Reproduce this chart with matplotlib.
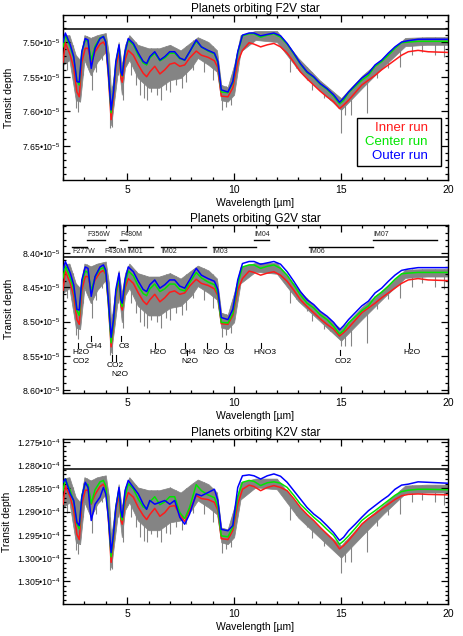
import numpy as np
import matplotlib
matplotlib.use("Agg")
import matplotlib.pyplot as plt
from matplotlib.ticker import FixedLocator, FixedFormatter, MultipleLocator
from matplotlib.patches import Rectangle

plt.rcParams['font.family'] = ['Liberation Sans', 'DejaVu Sans']
plt.rcParams['mathtext.fontset'] = 'custom'
plt.rcParams['mathtext.rm'] = 'Liberation Sans'
plt.rcParams['mathtext.default'] = 'regular'

# --- smoothed runs (transit depth, 1e-5 for F2V/G2V, 1e-4 for K2V) ---
wavelength = [2.00, 2.11, 2.34, 2.50, 2.65, 2.76, 2.88, 3.04, 3.17, 3.32,
              3.50, 3.73, 3.89, 4.00, 4.12, 4.25, 4.36, 4.47, 4.62, 4.71,
              4.77, 4.90, 5.05, 5.29, 5.52, 5.75, 5.91, 6.06, 6.29, 6.53,
              6.76, 6.99, 7.22, 7.46, 7.69, 7.92, 8.23, 8.47, 8.78, 9.08,
              9.24, 9.40, 9.71, 9.94, 10.17, 10.39, 10.70, 10.93, 11.24, 11.55,
              11.86, 12.17, 12.48, 12.79, 13.10, 13.41, 13.72, 14.03, 14.34, 14.65,
              14.93, 15.12, 15.35, 15.66, 15.97, 16.28, 16.59, 16.90, 17.21, 17.52,
              17.83, 18.14, 18.60, 19.07, 20.00]

f2v_outer = [7.500, 7.487, 7.504, 7.521, 7.557, 7.558, 7.514, 7.495, 7.497, 7.538,
             7.509, 7.495, 7.492, 7.500, 7.543, 7.598, 7.572, 7.528, 7.504, 7.543,
             7.548, 7.514, 7.495, 7.502, 7.516, 7.528, 7.531, 7.521, 7.514, 7.526,
             7.521, 7.514, 7.514, 7.523, 7.526, 7.514, 7.497, 7.507, 7.512, 7.516,
             7.528, 7.569, 7.572, 7.557, 7.514, 7.490, 7.487, 7.487, 7.491, 7.489,
             7.487, 7.491, 7.502, 7.516, 7.531, 7.543, 7.550, 7.560, 7.567, 7.576,
             7.587, 7.581, 7.572, 7.562, 7.552, 7.545, 7.533, 7.526, 7.516, 7.507,
             7.500, 7.498, 7.496, 7.496, 7.496]
f2v_center = [7.507, 7.490, 7.507, 7.523, 7.555, 7.562, 7.514, 7.497, 7.499, 7.526,
              7.506, 7.494, 7.492, 7.500, 7.543, 7.602, 7.573, 7.530, 7.506, 7.545,
              7.549, 7.516, 7.497, 7.504, 7.519, 7.530, 7.533, 7.523, 7.516, 7.527,
              7.523, 7.516, 7.516, 7.524, 7.526, 7.514, 7.499, 7.507, 7.513, 7.517,
              7.530, 7.572, 7.573, 7.559, 7.516, 7.491, 7.488, 7.488, 7.493, 7.490,
              7.488, 7.493, 7.503, 7.517, 7.532, 7.544, 7.551, 7.561, 7.568, 7.578,
              7.589, 7.584, 7.573, 7.564, 7.555, 7.548, 7.535, 7.528, 7.519, 7.509,
              7.501, 7.500, 7.499, 7.499, 7.499]
f2v_inner = [7.529, 7.501, 7.519, 7.537, 7.572, 7.579, 7.529, 7.509, 7.509, 7.529,
             7.514, 7.503, 7.500, 7.506, 7.549, 7.612, 7.581, 7.537, 7.514, 7.552,
             7.558, 7.526, 7.512, 7.519, 7.533, 7.545, 7.550, 7.543, 7.535, 7.546,
             7.540, 7.532, 7.530, 7.535, 7.533, 7.523, 7.513, 7.519, 7.522, 7.527,
             7.537, 7.578, 7.579, 7.566, 7.529, 7.512, 7.501, 7.503, 7.507, 7.504,
             7.502, 7.507, 7.516, 7.529, 7.543, 7.553, 7.562, 7.571, 7.579, 7.586,
             7.596, 7.591, 7.584, 7.573, 7.562, 7.555, 7.548, 7.540, 7.533, 7.526,
             7.519, 7.514, 7.512, 7.514, 7.515]

g2v_outer = [8.425, 8.412, 8.429, 8.446, 8.482, 8.483, 8.439, 8.420, 8.422, 8.463,
             8.434, 8.420, 8.417, 8.425, 8.468, 8.523, 8.497, 8.453, 8.429, 8.468,
             8.473, 8.439, 8.420, 8.427, 8.441, 8.453, 8.456, 8.446, 8.439, 8.451,
             8.446, 8.439, 8.439, 8.448, 8.451, 8.439, 8.422, 8.432, 8.437, 8.441,
             8.453, 8.494, 8.497, 8.482, 8.439, 8.415, 8.412, 8.412, 8.416, 8.414,
             8.412, 8.416, 8.427, 8.441, 8.456, 8.468, 8.475, 8.485, 8.492, 8.501,
             8.512, 8.506, 8.497, 8.487, 8.477, 8.470, 8.458, 8.451, 8.441, 8.432,
             8.425, 8.423, 8.421, 8.421, 8.421]
g2v_center = [8.436, 8.419, 8.436, 8.452, 8.484, 8.491, 8.443, 8.426, 8.428, 8.455,
              8.435, 8.423, 8.421, 8.429, 8.472, 8.531, 8.502, 8.459, 8.435, 8.474,
              8.478, 8.445, 8.426, 8.433, 8.448, 8.459, 8.462, 8.452, 8.445, 8.456,
              8.452, 8.445, 8.445, 8.453, 8.455, 8.443, 8.428, 8.436, 8.442, 8.446,
              8.459, 8.501, 8.502, 8.488, 8.445, 8.420, 8.417, 8.417, 8.422, 8.419,
              8.417, 8.422, 8.432, 8.446, 8.461, 8.473, 8.480, 8.490, 8.497, 8.507,
              8.518, 8.513, 8.502, 8.493, 8.484, 8.477, 8.464, 8.457, 8.448, 8.438,
              8.430, 8.429, 8.428, 8.428, 8.428]
g2v_inner = [8.454, 8.426, 8.444, 8.462, 8.497, 8.504, 8.454, 8.434, 8.434, 8.454,
             8.439, 8.428, 8.425, 8.431, 8.474, 8.537, 8.506, 8.462, 8.439, 8.477,
             8.483, 8.451, 8.437, 8.444, 8.458, 8.470, 8.475, 8.468, 8.460, 8.471,
             8.465, 8.457, 8.455, 8.460, 8.458, 8.448, 8.438, 8.444, 8.447, 8.452,
             8.462, 8.503, 8.504, 8.491, 8.454, 8.437, 8.426, 8.428, 8.432, 8.429,
             8.427, 8.432, 8.441, 8.454, 8.468, 8.478, 8.487, 8.496, 8.504, 8.511,
             8.521, 8.516, 8.509, 8.498, 8.487, 8.480, 8.473, 8.465, 8.458, 8.451,
             8.444, 8.439, 8.437, 8.439, 8.440]

k2v_outer = [1.2837, 1.2830, 1.2862, 1.2876, 1.2923, 1.2930, 1.2869, 1.2837, 1.2848, 1.2919,
             1.2884, 1.2869, 1.2848, 1.2862, 1.2912, 1.2988, 1.2948, 1.2891, 1.2848, 1.2898,
             1.2912, 1.2855, 1.2833, 1.2848, 1.2862, 1.2884, 1.2895, 1.2876, 1.2884, 1.2880,
             1.2876, 1.2884, 1.2876, 1.2912, 1.2927, 1.2905, 1.2862, 1.2866, 1.2859, 1.2852,
             1.2876, 1.2938, 1.2941, 1.2930, 1.2848, 1.2823, 1.2821, 1.2823, 1.2830, 1.2823,
             1.2819, 1.2824, 1.2837, 1.2855, 1.2873, 1.2891, 1.2905, 1.2916, 1.2930, 1.2945,
             1.2962, 1.2955, 1.2941, 1.2927, 1.2912, 1.2898, 1.2887, 1.2876, 1.2866, 1.2852,
             1.2843, 1.2841, 1.2836, 1.2837, 1.2839]
k2v_center = [1.2855, 1.2830, 1.2855, 1.2879, 1.2926, 1.2937, 1.2866, 1.2840, 1.2842, 1.2883,
              1.2853, 1.2836, 1.2833, 1.2845, 1.2909, 1.2997, 1.2954, 1.2890, 1.2853, 1.2911,
              1.2918, 1.2868, 1.2840, 1.2851, 1.2873, 1.2890, 1.2894, 1.2879, 1.2868, 1.2885,
              1.2879, 1.2868, 1.2868, 1.2902, 1.2915, 1.2891, 1.2842, 1.2855, 1.2864, 1.2870,
              1.2890, 1.2952, 1.2954, 1.2933, 1.2868, 1.2837, 1.2833, 1.2835, 1.2844, 1.2838,
              1.2836, 1.2839, 1.2848, 1.2865, 1.2884, 1.2898, 1.2912, 1.2924, 1.2938, 1.2951,
              1.2970, 1.2963, 1.2952, 1.2936, 1.2919, 1.2908, 1.2898, 1.2887, 1.2876, 1.2865,
              1.2857, 1.2854, 1.2852, 1.2852, 1.2853]
k2v_inner = [1.2884, 1.2844, 1.2869, 1.2897, 1.2949, 1.2960, 1.2884, 1.2854, 1.2854, 1.2884,
             1.2863, 1.2846, 1.2841, 1.2850, 1.2915, 1.3009, 1.2962, 1.2897, 1.2863, 1.2919,
             1.2927, 1.2880, 1.2859, 1.2869, 1.2891, 1.2908, 1.2917, 1.2906, 1.2893, 1.2910,
             1.2902, 1.2889, 1.2887, 1.2906, 1.2921, 1.2897, 1.2865, 1.2872, 1.2874, 1.2880,
             1.2897, 1.2958, 1.2960, 1.2940, 1.2884, 1.2852, 1.2843, 1.2846, 1.2855, 1.2848,
             1.2844, 1.2848, 1.2855, 1.2872, 1.2891, 1.2906, 1.2919, 1.2934, 1.2948, 1.2962,
             1.2980, 1.2973, 1.2962, 1.2945, 1.2927, 1.2915, 1.2905, 1.2894, 1.2884, 1.2874,
             1.2866, 1.2863, 1.2862, 1.2863, 1.2864]

# --- high-resolution spectrum: envelope of the grey band ---
grey_wl = [2.0, 2.3, 2.6, 2.8, 3.0, 3.3, 3.6, 4.0, 4.15, 4.25,
           4.4, 4.6, 4.75, 4.9, 5.1, 5.5, 6.0, 6.5, 7.0, 7.5,
           8.0, 8.3, 8.8, 9.2, 9.4, 9.7, 10.0, 10.3, 11.0, 12.0,
           13.0, 14.0, 15.0, 16.0, 17.0, 18.0, 19.0, 20.0]
f2v_grey_hi = [7.491, 7.490, 7.519, 7.526, 7.490, 7.494, 7.490, 7.487, 7.519, 7.576,
               7.540, 7.500, 7.533, 7.504, 7.490, 7.504, 7.509, 7.509, 7.504, 7.512,
               7.500, 7.493, 7.500, 7.512, 7.562, 7.565, 7.533, 7.490, 7.484, 7.484,
               7.523, 7.555, 7.581, 7.548, 7.522, 7.494, 7.493, 7.493]
f2v_grey_lo = [7.533, 7.526, 7.584, 7.586, 7.526, 7.548, 7.529, 7.514, 7.562, 7.620,
               7.584, 7.533, 7.576, 7.537, 7.526, 7.552, 7.566, 7.566, 7.555, 7.552,
               7.537, 7.523, 7.533, 7.543, 7.584, 7.586, 7.576, 7.514, 7.497, 7.500,
               7.540, 7.569, 7.598, 7.566, 7.535, 7.506, 7.504, 7.504]
g2v_grey_hi = [8.416, 8.415, 8.444, 8.451, 8.415, 8.419, 8.415, 8.412, 8.444, 8.501,
               8.465, 8.425, 8.458, 8.429, 8.415, 8.429, 8.434, 8.434, 8.429, 8.437,
               8.425, 8.418, 8.425, 8.437, 8.487, 8.490, 8.458, 8.420, 8.414, 8.414,
               8.453, 8.485, 8.511, 8.478, 8.452, 8.424, 8.423, 8.423]
g2v_grey_lo = [8.458, 8.451, 8.509, 8.511, 8.451, 8.473, 8.454, 8.439, 8.487, 8.545,
               8.509, 8.458, 8.501, 8.462, 8.451, 8.477, 8.491, 8.491, 8.480, 8.477,
               8.462, 8.448, 8.458, 8.468, 8.509, 8.511, 8.501, 8.444, 8.427, 8.430,
               8.470, 8.499, 8.528, 8.496, 8.465, 8.436, 8.434, 8.434]
k2v_grey_hi = [1.2829, 1.2826, 1.2869, 1.2880, 1.2826, 1.2833, 1.2826, 1.2822, 1.2869, 1.2955,
               1.2902, 1.2841, 1.2891, 1.2848, 1.2826, 1.2848, 1.2854, 1.2854, 1.2848, 1.2859,
               1.2841, 1.2831, 1.2841, 1.2859, 1.2934, 1.2938, 1.2891, 1.2837, 1.2829, 1.2829,
               1.2887, 1.2934, 1.2973, 1.2923, 1.2885, 1.2844, 1.2842, 1.2842]
k2v_grey_lo = [1.2891, 1.2880, 1.2966, 1.2970, 1.2880, 1.2912, 1.2884, 1.2863, 1.2934, 1.3020,
               1.2966, 1.2891, 1.2955, 1.2897, 1.2880, 1.2919, 1.2940, 1.2940, 1.2923, 1.2919,
               1.2897, 1.2876, 1.2891, 1.2906, 1.2966, 1.2970, 1.2955, 1.2874, 1.2848, 1.2852,
               1.2913, 1.2956, 1.2999, 1.2951, 1.2904, 1.2861, 1.2859, 1.2859]

# narrow absorption spikes of the grey spectrum
spike_wl = [2.2, 2.45, 2.62, 2.72, 2.95, 3.1, 3.35, 3.55, 3.8, 4.2,
            4.3, 4.55, 4.8, 5.2, 5.4, 5.6, 5.8, 5.95, 6.1, 6.4,
            6.6, 6.8, 7.0, 7.3, 7.55, 7.75, 8.1, 8.6, 9.0, 9.45,
            9.6, 9.85, 12.6, 12.9, 13.4, 13.65, 14.2, 14.5, 15.0, 15.2,
            15.45, 16.2, 16.7, 17.2, 17.75, 18.3, 18.8, 19.4, 19.8]
f2v_spike = [7.540, 7.555, 7.595, 7.601, 7.548, 7.533, 7.569, 7.543, 7.526, 7.624,
             7.622, 7.548, 7.584, 7.548, 7.562, 7.576, 7.581, 7.584, 7.572, 7.576,
             7.584, 7.569, 7.572, 7.562, 7.566, 7.558, 7.540, 7.543, 7.555, 7.598,
             7.594, 7.591, 7.543, 7.537, 7.555, 7.569, 7.581, 7.584, 7.631, 7.605,
             7.605, 7.602, 7.552, 7.537, 7.536, 7.519, 7.514, 7.519, 7.522]
g2v_spike = [8.465, 8.480, 8.520, 8.526, 8.473, 8.458, 8.494, 8.468, 8.451, 8.549,
             8.547, 8.473, 8.509, 8.473, 8.487, 8.501, 8.506, 8.509, 8.497, 8.501,
             8.509, 8.494, 8.497, 8.487, 8.491, 8.483, 8.465, 8.468, 8.480, 8.523,
             8.519, 8.516, 8.473, 8.467, 8.485, 8.499, 8.511, 8.514, 8.535, 8.535,
             8.535, 8.532, 8.482, 8.467, 8.466, 8.449, 8.444, 8.449, 8.452]
k2v_spike = [1.2902, 1.2923, 1.2983, 1.2992, 1.2912, 1.2891, 1.2945, 1.2906, 1.2880, 1.3026,
             1.3024, 1.2912, 1.2966, 1.2912, 1.2934, 1.2955, 1.2962, 1.2966, 1.2949, 1.2955,
             1.2966, 1.2945, 1.2949, 1.2934, 1.2940, 1.2927, 1.2902, 1.2906, 1.2923, 1.2988,
             1.2981, 1.2977, 1.2917, 1.2908, 1.2934, 1.2956, 1.2973, 1.2977, 1.3031, 1.3009,
             1.3009, 1.2986, 1.2930, 1.2908, 1.2906, 1.2880, 1.2874, 1.2880, 1.2885]

# reference (no atmosphere) level in each panel
ref_depth = [7.4813, 8.4058, 1.2809]

# --- JWST filters and molecular bands (G2V panel) ---
filt_upper = ['F356W', 'F480M', 'IM04', 'IM07']
filt_upper_start = [3.14, 4.66, 10.95, 16.5]
filt_upper_end = [3.98, 4.97, 11.65, 19.5]
filt_lower = ['F277W', 'F430M', 'IM01', 'IM02', 'IM03', 'IM06']
filt_lower_start = [2.42, 4.17, 5.03, 6.6, 9.0, 13.5]
filt_lower_end = [3.12, 4.41, 6.2, 8.7, 11.0, 16.5]

mol_name = ['H2O\nCO2', 'CH4', 'CO2', 'N2O', 'O3', 'H2O', 'CH4', 'N2O',
            'N2O', 'O3', 'HNO3', 'CO2', 'H2O']
mol_wl = [2.7, 3.3, 4.27, 4.5, 4.7, 6.3, 7.7, 7.8, 8.75, 9.6, 11.27, 14.93, 18.17]
mol_row = [1, 0, 3, 4, 0, 1, 1, 2, 1, 1, 1, 2, 1]

titles = ['Planets orbiting F2V star', 'Planets orbiting G2V star',
          'Planets orbiting K2V star']

fig = plt.figure(figsize=(4.63, 6.36), dpi=100)
W, H = 463.0, 636.0
left, right = 63, 448
boxes = [(15, 180), (225, 392.7), (439, 604.3)]

panels = [
    dict(inner=f2v_inner, center=f2v_center, outer=f2v_outer,
         hi=f2v_grey_hi, lo=f2v_grey_lo, spike=f2v_spike,
         ylim=(7.699, 7.461), yt=[7.50, 7.55, 7.60, 7.65], fmt='{:.2f}', exp=-5,
         minor=0.01, ylx=-0.128),
    dict(inner=g2v_inner, center=g2v_center, outer=g2v_outer,
         hi=g2v_grey_hi, lo=g2v_grey_lo, spike=g2v_spike,
         ylim=(8.604, 8.3586), yt=[8.40, 8.45, 8.50, 8.55, 8.60], fmt='{:.2f}', exp=-5,
         minor=0.01, ylx=-0.128),
    dict(inner=k2v_inner, center=k2v_center, outer=k2v_outer,
         hi=k2v_grey_hi, lo=k2v_grey_lo, spike=k2v_spike,
         ylim=(1.3099, 1.2744), yt=[1.275, 1.280, 1.285, 1.290, 1.295, 1.300, 1.305],
         fmt='{:.3f}', exp=-4, minor=0.001, ylx=-0.132),
]

grey = '#848484'
axes = []
for i, p in enumerate(panels):
    top, bot = boxes[i]
    ax = fig.add_axes([left / W, 1 - bot / H, (right - left) / W, (bot - top) / H])
    axes.append(ax)

    ax.fill_between(grey_wl, p['hi'], p['lo'], color=grey, lw=0.5, zorder=1)
    spike_top = np.interp(spike_wl, grey_wl, p['hi'])
    ax.vlines(spike_wl, spike_top, p['spike'], color=grey, lw=0.8, zorder=1)

    ax.axhline(ref_depth[i], color='black', lw=1.1, zorder=2)
    ax.plot(wavelength, p['inner'], color='#ff1a1a', lw=1.1, zorder=3)
    ax.plot(wavelength, p['center'], color='#00e600', lw=1.1, zorder=4)
    ax.plot(wavelength, p['outer'], color='#0000ff', lw=1.1, zorder=5)

    ax.set_xlim(2, 20)
    ax.set_ylim(*p['ylim'])
    ax.xaxis.set_major_locator(FixedLocator([5, 10, 15, 20]))
    ax.xaxis.set_minor_locator(MultipleLocator(1))
    ax.yaxis.set_major_locator(FixedLocator(p['yt']))
    ax.yaxis.set_major_formatter(FixedFormatter(
        [p['fmt'].format(v) + '\u2022' + '10$^{%d}$' % p['exp'] for v in p['yt']]))
    ax.yaxis.set_minor_locator(MultipleLocator(p['minor']))
    ax.tick_params(which='both', direction='in', top=True, right=True, width=0.9)
    ax.tick_params(which='major', length=5)
    ax.tick_params(which='minor', length=2.5)
    ax.tick_params(axis='x', labelsize=7.5, pad=3.5)
    ax.tick_params(axis='y', labelsize=6.3, pad=2)
    for s in ax.spines.values():
        s.set_linewidth(1.0)

    ax.set_title(titles[i], fontsize=8.5, pad=2.5)
    ax.set_ylabel('Transit depth', fontsize=7.5)
    ax.yaxis.set_label_coords(p['ylx'], 0.5)
    ax.set_xlabel('Wavelength [\u00b5m]', fontsize=7.5)
    ax.xaxis.set_label_coords(0.5, -0.11)

# legend box in the top panel
ax = axes[0]
ax.add_patch(Rectangle((0.763, 0.085), 0.219, 0.289, transform=ax.transAxes,
                       facecolor='white', edgecolor='black', lw=1.0, zorder=6))
for txt, col, yy in [('Inner run', '#ff1a1a', 0.317), ('Center run', '#00e600', 0.232),
                     ('Outer run', '#0000ff', 0.147)]:
    ax.text(0.948, yy, txt, color=col, fontsize=9.5, ha='right', va='center',
            transform=ax.transAxes, zorder=7)

# filter bars and molecule markers in the G2V panel
ax = axes[1]
for name, a, b in zip(filt_upper, filt_upper_start, filt_upper_end):
    ax.plot([a, b], [8.3810, 8.3810], color='black', lw=1.0, zorder=6)
    ax.text(a, 8.3731, name, fontsize=5, ha='left', va='center', color='#222222')
for name, a, b in zip(filt_lower, filt_lower_start, filt_lower_end):
    ax.plot([a, b], [8.3911, 8.3911], color='black', lw=1.0, zorder=6)
    lx = 3.92 if name == 'F430M' else a
    ax.text(lx, 8.3969, name, fontsize=5, ha='left', va='center', color='#222222')

row_tick = [(8.5210, 8.5290), (8.5316, 8.5388), (8.5413, 8.5485),
            (8.5485, 8.5580), (8.5485, 8.5580)]
row_text = [8.5360, 8.5455, 8.5585, 8.5648, 8.5772]
for name, w, r in zip(mol_name, mol_wl, mol_row):
    t0, t1 = row_tick[r]
    ax.plot([w, w], [t0, t1], color='black', lw=0.8, zorder=6)
    if '\n' in name:
        first, second = name.split('\n')
        ax.text(w + 0.15, row_text[r], first, fontsize=6, ha='center', va='center', zorder=6)
        ax.text(w + 0.15, row_text[r + 1], second, fontsize=6, ha='center',
                va='center', zorder=6)
    else:
        ax.text(w + 0.15, row_text[r], name, fontsize=6, ha='center', va='center', zorder=6)

fig.savefig('out.png', dpi=100)
